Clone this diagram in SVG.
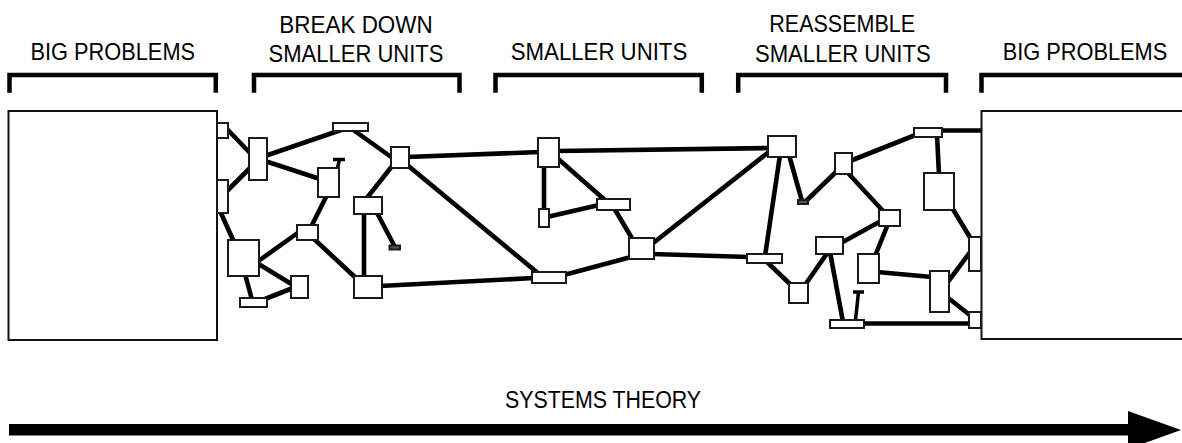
<svg xmlns="http://www.w3.org/2000/svg" width="1182" height="443" viewBox="0 0 1182 443">
  <style>
    .label { font-family: "Liberation Sans Narrow", "Liberation Sans", Arial, sans-serif; font-size: 24.5px; fill: #000; text-anchor: middle; }
    .bracket { fill: none; stroke: #000; stroke-width: 4.5; stroke-linejoin: miter; }
    .big { fill: #fff; stroke: #111; stroke-width: 2; }
    .node rect { fill: #fff; stroke: #1a1a1a; stroke-width: 2; }
    .node rect.dot { fill: #555; }
    .links line { stroke: #000; stroke-width: 4.6; stroke-linecap: butt; }
    .cap { stroke: #000; stroke-width: 3.5; fill: none; }
  </style>

  <!-- stage headings -->
  <g id="headings">
    <text class="label" x="112.8" y="60" textLength="164.5" lengthAdjust="spacingAndGlyphs">BIG PROBLEMS</text>
    <text class="label" x="356" y="32.5" textLength="153.4" lengthAdjust="spacingAndGlyphs">BREAK DOWN</text>
    <text class="label" x="356" y="61.5" textLength="175" lengthAdjust="spacingAndGlyphs">SMALLER UNITS</text>
    <text class="label" x="599" y="60" textLength="176.5" lengthAdjust="spacingAndGlyphs">SMALLER UNITS</text>
    <text class="label" x="842.2" y="31.7" textLength="145.7" lengthAdjust="spacingAndGlyphs">REASSEMBLE</text>
    <text class="label" x="842.8" y="61.5" textLength="175.7" lengthAdjust="spacingAndGlyphs">SMALLER UNITS</text>
    <text class="label" x="1085" y="60" textLength="164.6" lengthAdjust="spacingAndGlyphs">BIG PROBLEMS</text>
  </g>

  <!-- brackets under each heading -->
  <g id="brackets">
    <path class="bracket" d="M9.5,92.7 V75 H215.8 V92.7"/>
    <path class="bracket" d="M254,92.7 V75 H459.5 V92.7"/>
    <path class="bracket" d="M495.5,92.7 V75 H701.8 V92.7"/>
    <path class="bracket" d="M738.2,92.7 V75 H946 V92.7"/>
    <path class="bracket" d="M981.5,92.7 V75 H1192"/>
  </g>

  <!-- connectors -->
  <g id="connectors" class="links">
    <line x1="226" y1="128" x2="251" y2="154"/>
    <line x1="226" y1="192" x2="251" y2="167"/>
    <line x1="220" y1="211" x2="234" y2="242"/>
    <line x1="265" y1="156" x2="344" y2="129"/>
    <line x1="265" y1="161" x2="320" y2="179"/>
    <line x1="352" y1="129" x2="394" y2="159"/>
    <line x1="407" y1="157" x2="540" y2="152"/>
    <line x1="393" y1="165" x2="366" y2="199"/>
    <line x1="406" y1="164" x2="539" y2="274"/>
    <line x1="376" y1="211" x2="395" y2="247"/>
    <line x1="364" y1="212" x2="364" y2="278"/>
    <line x1="327" y1="195" x2="311" y2="227"/>
    <line x1="299" y1="232" x2="257" y2="262"/>
    <line x1="313" y1="238" x2="357" y2="279"/>
    <line x1="257" y1="263" x2="293" y2="285"/>
    <line x1="245" y1="274" x2="252" y2="300"/>
    <line x1="265" y1="299" x2="293" y2="288"/>
    <line x1="380" y1="286" x2="534" y2="278"/>
    <line x1="557" y1="151" x2="770" y2="148"/>
    <line x1="544" y1="165" x2="544" y2="211"/>
    <line x1="547" y1="217" x2="599" y2="205"/>
    <line x1="556" y1="157" x2="606" y2="201"/>
    <line x1="614" y1="208" x2="633" y2="240"/>
    <line x1="652" y1="244" x2="770" y2="151"/>
    <line x1="652" y1="254" x2="749" y2="257"/>
    <line x1="564" y1="275" x2="631" y2="257"/>
    <line x1="780" y1="155" x2="765" y2="256"/>
    <line x1="789" y1="155" x2="802" y2="201"/>
    <line x1="806" y1="201" x2="837" y2="171"/>
    <line x1="850" y1="161" x2="918" y2="134"/>
    <line x1="847" y1="172" x2="884" y2="212"/>
    <line x1="881" y1="221" x2="841" y2="243"/>
    <line x1="888" y1="224" x2="875" y2="256"/>
    <line x1="877" y1="272" x2="932" y2="277"/>
    <line x1="766" y1="261" x2="791" y2="285"/>
    <line x1="805" y1="285" x2="828" y2="252"/>
    <line x1="830" y1="252" x2="843" y2="322"/>
    <line x1="862" y1="323.5" x2="971" y2="323.5"/>
    <line x1="940" y1="130.5" x2="983" y2="130.5"/>
    <line x1="937" y1="135" x2="939" y2="175"/>
    <line x1="951" y1="206" x2="971" y2="239"/>
    <line x1="971" y1="251" x2="947" y2="283"/>
    <line x1="947" y1="297" x2="971" y2="316"/>
  </g>

  <!-- whole problems at each end -->
  <g id="big-problem-left"><rect class="big" x="8.5" y="111" width="208.5" height="229"/></g>
  <g id="big-problem-right"><rect class="big" x="981.5" y="111" width="210" height="228"/></g>

  <!-- units produced by breaking the problem down -->
  <g id="n-a" class="node"><rect x="217" y="123" width="11" height="15"/></g>
  <g id="n-b" class="node"><rect x="217" y="180" width="11" height="33"/></g>
  <g id="n-c" class="node"><rect x="249" y="138" width="18" height="42"/></g>
  <g id="n-d" class="node"><rect x="333" y="123" width="35" height="8"/></g>
  <g id="n-e" class="node"><rect x="391" y="147" width="18" height="21"/></g>
  <g id="n-f" class="node">
    <path class="cap" d="M333,159.5 H345 M339.5,159.5 L337.5,168"/>
    <rect x="318" y="168" width="21" height="29"/>
  </g>
  <g id="n-g" class="node"><rect x="354" y="197" width="28" height="17"/></g>
  <g id="n-h" class="node"><rect class="dot" x="389.5" y="245.5" width="10.5" height="4"/></g>
  <g id="n-i" class="node"><rect x="297" y="225" width="21" height="15"/></g>
  <g id="n-j" class="node"><rect x="228" y="240" width="31" height="36"/></g>
  <g id="n-k" class="node"><rect x="291" y="276" width="17" height="22"/></g>
  <g id="n-l" class="node"><rect x="240" y="298" width="27" height="9"/></g>
  <g id="n-m" class="node"><rect x="354" y="276" width="28" height="22"/></g>

  <!-- smaller units -->
  <g id="n-n" class="node"><rect x="538" y="138" width="21" height="29"/></g>
  <g id="n-o" class="node"><rect x="539" y="209" width="10" height="18"/></g>
  <g id="n-p" class="node"><rect x="597" y="199" width="33" height="11"/></g>
  <g id="n-q" class="node"><rect x="629" y="238" width="25" height="21"/></g>
  <g id="n-r" class="node"><rect x="532" y="272" width="34" height="11"/></g>

  <!-- units being reassembled -->
  <g id="n-s" class="node"><rect x="768" y="136" width="28" height="21"/></g>
  <g id="n-t" class="node"><rect x="747" y="254" width="35" height="9"/></g>
  <g id="n-u" class="node"><rect class="dot" x="798" y="200" width="10" height="4"/></g>
  <g id="n-v" class="node"><rect x="835" y="153" width="17" height="21"/></g>
  <g id="n-w" class="node"><rect x="914" y="128" width="28" height="9"/></g>
  <g id="n-x" class="node"><rect x="879" y="210" width="21" height="16"/></g>
  <g id="n-y" class="node"><rect x="816" y="237" width="27" height="17"/></g>
  <g id="n-z" class="node"><rect x="858" y="254" width="21" height="29"/></g>
  <g id="n-aa" class="node"><rect x="930" y="271" width="19" height="41"/></g>
  <g id="n-ab" class="node"><rect x="789" y="283" width="19" height="20"/></g>
  <g id="n-ac" class="node">
    <path class="cap" d="M853,292 H864 M858.5,292 L855.5,320"/>
    <rect x="830" y="320" width="34" height="8"/>
  </g>
  <g id="n-ae" class="node"><rect x="924" y="173" width="30" height="37"/></g>
  <g id="n-af" class="node"><rect x="969" y="237" width="12" height="34"/></g>
  <g id="n-ag" class="node"><rect x="969" y="312" width="12" height="16"/></g>

  <!-- timeline -->
  <g id="timeline">
    <text class="label" x="603" y="408" textLength="196" lengthAdjust="spacingAndGlyphs">SYSTEMS THEORY</text>
    <rect x="9" y="424" width="1121" height="11.5" fill="#000"/>
    <polygon points="1128,411 1181,430 1128,449" fill="#000"/>
  </g>
</svg>
